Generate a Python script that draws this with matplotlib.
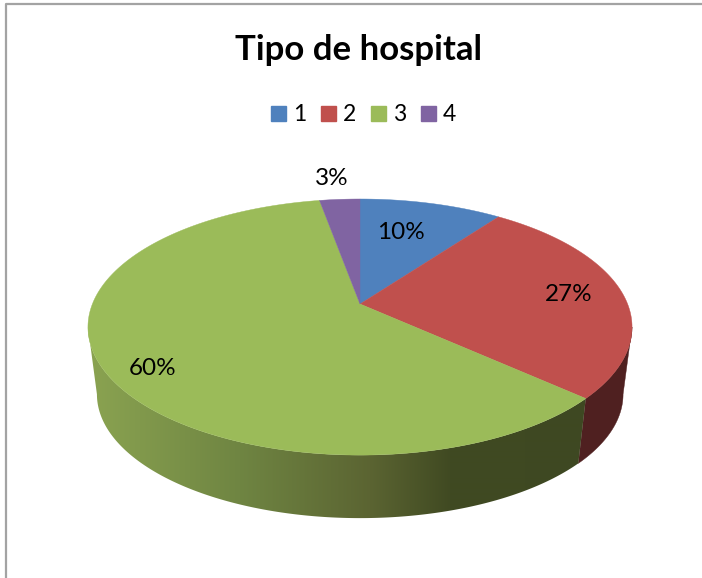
import numpy as np
import matplotlib
matplotlib.use("Agg")
import matplotlib.pyplot as plt
from matplotlib.patches import Patch, Polygon
from matplotlib.colors import to_rgb

categories = ["1", "2", "3", "4"]
values = [10.1, 26.6, 60.45, 2.85]
title = "Tipo de hospital"

colors = ["#4F81BD", "#C0504D", "#9BBB59", "#8064A2"]
red_side = "#4F2020"

# green wall gets darker going right
grad_x = [90, 240, 370, 450, 600]
grad_col = [to_rgb(c) for c in ["#8AA351", "#6F8542", "#5B6432", "#404A22", "#3E4822"]]

label_pos = [(401, 232.5), (569, 294.5), (153, 368.5), (332, 178.5)]

plt.rcParams['font.family'] = ['Lato', 'DejaVu Sans']

fig = plt.figure(figsize=(7.02, 5.78), dpi=100)
ax = fig.add_axes([0, 0, 1, 1])
ax.axis("off")

# perspective of the disc, apex at cx, cy
cx, cy = 360, 304
a, b, k = 267.6, 123.9, 0.18
scale_low = 0.967
cy_low = 372


def rim(angle, low=False):
    u, v = np.sin(angle), np.cos(angle)
    w = 1 + k * v
    x, y = a * u / w, -b * v / w
    if low:
        return cx + x * scale_low, cy_low + y * scale_low
    return cx + x, cy + y


ends = np.cumsum(values) / np.sum(values) * 2 * np.pi
starts = np.concatenate([[0], ends[:-1]])

# angles where the disc is widest, the walls stop there
right_edge = np.arccos(-k)
left_edge = 2 * np.pi - right_edge

# walls, only green and red can be seen
t = np.linspace(right_edge, ends[1], 200)
xt, yt = rim(t)
xl, yl = rim(t[::-1], True)
red_wall = list(zip(xt, yt)) + list(zip(xl, yl))
ax.add_patch(Polygon(red_wall, facecolor=red_side, edgecolor=red_side, lw=0.3))

t = np.linspace(starts[2], left_edge, 300)
xt, yt = rim(t)
xl, yl = rim(t[::-1], True)
green_wall = Polygon(list(zip(xt, yt)) + list(zip(xl, yl)), facecolor="none", edgecolor="none",
                     transform=ax.transData)
ax.add_patch(green_wall)
xs = np.arange(80, 640)
grad = np.stack([np.interp(xs, grad_x, [g[j] for g in grad_col]) for j in range(3)], axis=-1)
im = ax.imshow(grad[np.newaxis, :, :], extent=(80, 640, 530, 190), aspect="auto",
               interpolation="bilinear", zorder=1)
im.set_clip_path(green_wall)
ax.set_xlim(0, 702)
ax.set_ylim(578, 0)

# top of the pie
for i in range(len(values)):
    t = np.linspace(starts[i], ends[i], 200)
    xs, ys = rim(t)
    pts = [(cx, cy)] + list(zip(xs, ys))
    ax.add_patch(Polygon(pts, facecolor=colors[i], edgecolor=colors[i], lw=0.3, zorder=2))

for v, (x, y) in zip(values, label_pos):
    ax.text(x, y, f"{round(v)}%", ha="center", va="center", fontsize=17.5, color="black", zorder=3)

ax.text(358.5, 49.5, title, ha="center", va="center", fontsize=25, fontweight="bold", color="black")

handles = [Patch(facecolor=c, edgecolor=c) for c in colors]
ax.legend(handles, categories, ncol=4, frameon=False, loc="center",
          bbox_to_anchor=(0.518, 0.8015), fontsize=16.5, handlelength=0.65, handleheight=0.65,
          handletextpad=0.32, columnspacing=0.63, labelcolor="black",
          borderpad=0, borderaxespad=0)

# chart frame
ax.plot([5.5, 5.5, 702], [578, 3.5, 3.5], color="#A3A3A3", lw=1.6, solid_capstyle="butt")

fig.savefig("out.png", dpi=100)
